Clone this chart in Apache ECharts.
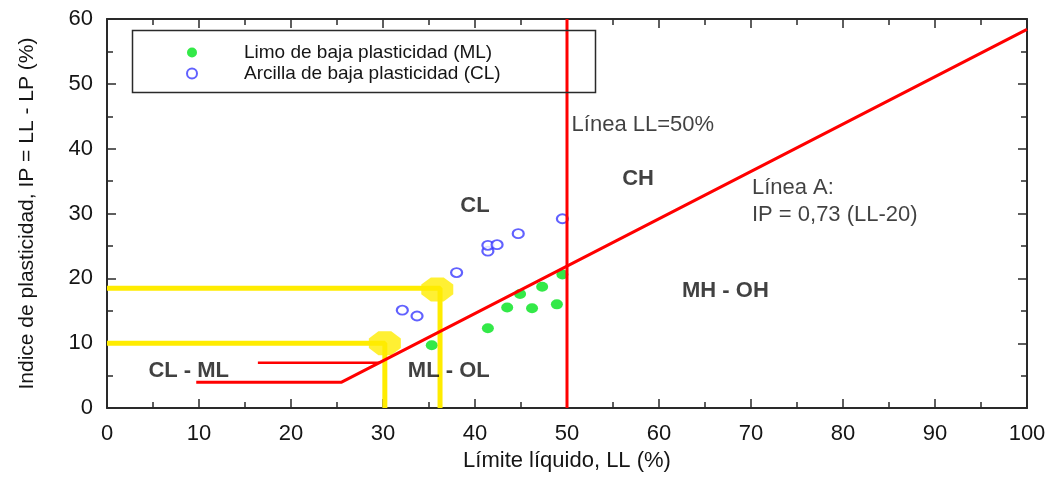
<!DOCTYPE html>
<html>
<head>
<meta charset="utf-8">
<script src="https://cdn.jsdelivr.net/npm/echarts@6/dist/echarts.min.js"></script>
<style>
html,body{margin:0;padding:0;background:#fff;}
#chart{width:1056px;height:477px;}
</style>
</head>
<body>
<div id="chart"></div>
<script>
// ---- data ----
const xTicks = [0,10,20,30,40,50,60,70,80,90,100];
const yTicks = [0,10,20,30,40,50,60];
const mlName = 'Limo de baja plasticidad (ML)';
const clName = 'Arcilla de baja plasticidad (CL)';
const mlPoints = [[35.3,9.7],[41.4,12.3],[43.5,15.5],[44.9,17.6],[46.2,15.4],[47.3,18.7],[48.9,16.0],[49.5,20.6]];
const clPoints = [[32.1,15.1],[33.7,14.2],[38.0,20.9],[41.4,24.2],[41.4,25.1],[42.4,25.2],[44.7,26.9],[49.5,29.2]];
const llLine = [[50,0],[50,60]];
const aLine = [[9.7,4],[25.5,4],[100,58.4]];
const upperLine = [[16.4,7],[29.6,7]];
const yellowLine1 = [[0,10],[30.2,10],[30.2,0]];
const yellowLine2 = [[0,18.5],[36.2,18.5],[36.2,0]];
const yellowMarks = [[30.2,10],[35.9,18.3]];
const plainNotes = [[50.5,43.7,'Línea LL=50%'],[70.1,34.0,'Línea A:'],[70.1,29.8,'IP = 0,73 (LL-20)']];
const boldNotes = [[56.0,35.4,'CH'],[62.5,18.0,'MH - OH'],[38.4,31.1,'CL'],[4.5,5.7,'CL - ML'],[32.7,5.7,'ML - OL']];
const xTitle = 'Límite líquido, LL (%)';
const yTitle = 'Indice de plasticidad, IP = LL - LP (%)';

// ---- chart ----
const FONT = '"Liberation Sans", Arial, sans-serif';
const TXT = '#151515';
const AX = '#2a2a2a';
const RED = '#ff0000';
const YEL = '#ffec00';

const chart = echarts.init(document.getElementById('chart'));

function mkX(pos, labels) {
  return {
    type: 'value', position: pos,
    min: xTicks[0], max: xTicks[xTicks.length-1], interval: xTicks[1]-xTicks[0],
    name: labels ? xTitle : '', nameLocation: 'middle', nameGap: 40,
    nameTextStyle: {fontFamily: FONT, fontSize: 22, color: TXT},
    axisLine: {show: true, onZero: false, lineStyle: {color: AX, width: 2}},
    axisTick: {show: true, inside: true, length: 9, lineStyle: {color: AX, width: 1.5}},
    minorTick: {show: true, splitNumber: 2, length: 6, lineStyle: {color: AX, width: 1.5}},
    axisLabel: {show: labels, margin: 15, fontFamily: FONT, fontSize: 22, color: TXT,
      formatter: v => xTicks.includes(v) ? String(v) : ''},
    splitLine: {show: false}
  };
}
function mkY(pos, labels) {
  return {
    type: 'value', position: pos,
    min: yTicks[0], max: yTicks[yTicks.length-1], interval: yTicks[1]-yTicks[0],
    name: labels ? yTitle : '', nameLocation: 'middle', nameGap: 69,
    nameTextStyle: {fontFamily: FONT, fontSize: 21, color: TXT},
    axisLine: {show: true, onZero: false, lineStyle: {color: AX, width: 2}},
    axisTick: {show: true, inside: true, length: 9, lineStyle: {color: AX, width: 1.5}},
    minorTick: {show: true, splitNumber: 2, length: 6, lineStyle: {color: AX, width: 1.5}},
    axisLabel: {show: labels, margin: 14, fontFamily: FONT, fontSize: 22, color: TXT,
      formatter: v => yTicks.includes(v) ? String(v) : ''},
    splitLine: {show: false}
  };
}
function redLine(data, w) {
  return {type: 'line', data: data, symbol: 'none', silent: true, z: 4,
    lineStyle: {color: RED, width: w}, animation: false};
}
function yelLine(data) {
  return {type: 'line', data: data, symbol: 'none', silent: true, z: 3,
    lineStyle: {color: YEL, width: 5}, animation: false};
}
function notes(data, bold) {
  return {type: 'scatter', data: data, symbolSize: 0, silent: true, z: 6,
    label: {show: true, position: 'right', distance: 0, formatter: p => p.data[2],
      fontFamily: FONT, fontSize: 22, fontWeight: bold ? 'bold' : 'normal', color: '#111'},
    animation: false};
}

chart.setOption({
  animation: false,
  backgroundColor: '#fff',
  grid: {left: 107, right: 29, top: 19, bottom: 68, containLabel: false},
  xAxis: [mkX('bottom', true), mkX('top', false)],
  yAxis: [mkY('left', true), mkY('right', false)],
  legend: {
    orient: 'vertical', left: 181, top: 38, itemGap: 2,
    itemWidth: 14, itemHeight: 10,
    data: [mlName, clName],
    textStyle: {fontFamily: FONT, fontSize: 19, color: TXT, padding: [0,0,0,40]}
  },
  graphic: [{
    type: 'rect', left: 130, top: 28, z: 10,
    shape: {width: 463, height: 62},
    style: {fill: 'none', stroke: AX, lineWidth: 1.5}
  }],
  series: [
    {name: mlName, type: 'scatter', data: mlPoints, symbol: 'circle', symbolSize: [12,10], z: 2,
      itemStyle: {color: '#00e31a'}},
    {name: clName, type: 'scatter', data: clPoints, symbol: 'emptyCircle', symbolSize: [11,9], z: 2,
      itemStyle: {color: '#3a3aff', borderWidth: 1.6}},
    yelLine(yellowLine1),
    yelLine(yellowLine2),
    {type: 'scatter', data: yellowMarks, silent: true, z: 3,
      symbol: 'path://M3,0 L7,0 L10,3 L10,7 L7,10 L3,10 L0,7 L0,3 Z', symbolSize: [32,24],
      itemStyle: {color: YEL}},
    redLine(llLine, 3),
    redLine(aLine, 3),
    redLine(upperLine, 2.5),
    notes(plainNotes, false),
    notes(boldNotes, true)
  ]
});
</script>
</body>
</html>
